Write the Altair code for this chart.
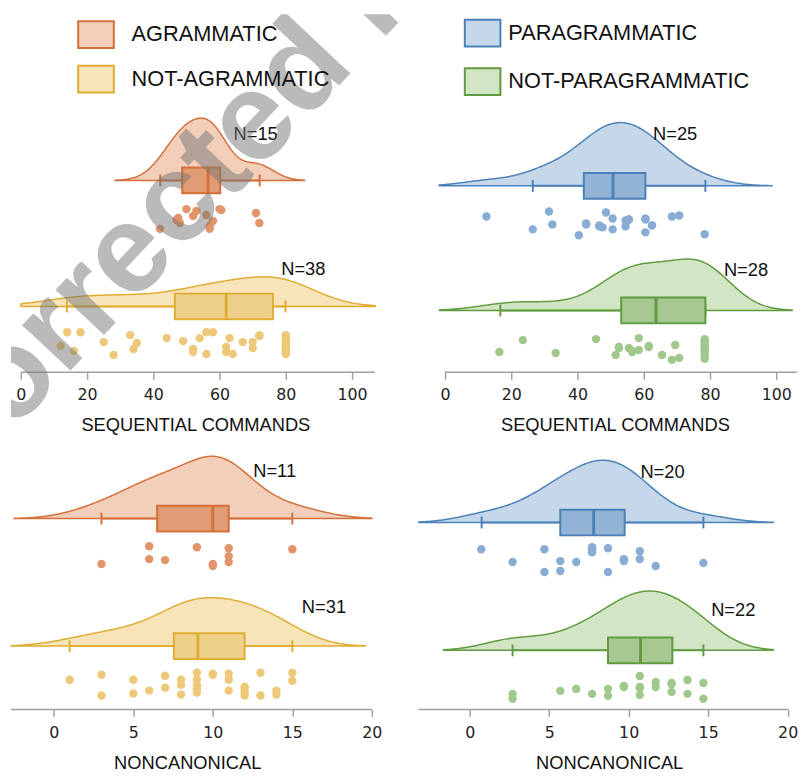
import altair as alt
import numpy as np
import pandas as pd

# ---------------- values ----------------
GROUPS_LEFT = ["AGRAMMATIC", "NOT-AGRAMMATIC"]
GROUPS_RIGHT = ["PARAGRAMMATIC", "NOT-PARAGRAMMATIC"]
X_TITLES = ["SEQUENTIAL COMMANDS", "NONCANONICAL"]
SEQ_TICKS = [0, 20, 40, 60, 80, 100]
NC_TICKS = [0, 5, 10, 15, 20]
WATERMARK = "Corrected Proof"

# SEQUENTIAL COMMANDS - scores and their vertical jitter (px below the box centre)
seq_agr = [42, 47, 47.5, 48, 50, 52, 53, 56, 57, 57, 58, 60, 60.5, 71, 72]
seq_agr_jit = [49, 40, 38, 43, 29, 36, 31, 35, 46, 49, 41, 29, 30, 33, 43]

seq_notagr = [12, 14, 16, 18, 25, 28, 33, 34, 35, 44, 49, 52, 52, 54, 56, 56, 58,
              62, 62, 63, 64, 67, 70, 70, 72, 72,
              80, 80, 80, 80, 80, 80, 80, 80, 80, 80, 80, 80]
seq_notagr_jit = [40, 26, 45, 26, 36, 49, 29, 43, 37, 32, 35, 43, 46, 32, 26, 48, 26,
                  41, 46, 32, 48, 36, 36, 42, 29, 30,
                  29, 31, 33, 35, 37, 39, 41, 43, 44, 46, 47, 48]

seq_para = [12.5, 26.5, 31.4, 32.4, 40.4, 42.6, 42.6, 46.6, 46.6, 47.6, 48.6, 50.6, 50.6,
            54.5, 54.5, 55.5, 55.5, 60.5, 60.5, 60.5, 62.5, 62.5, 68.5, 70.7, 78.4]
seq_para_jit = [31, 44, 26, 39, 50, 39, 38, 40, 41, 42, 27, 33, 44,
                35, 41, 34, 34, 33, 47, 34, 40, 40, 31, 30, 49]

seq_notpara = [16.4, 23.5, 33.4, 45.6, 51.5, 52.5, 52.5, 55.5, 56.5, 56.5, 58.5, 58.5,
               61.5, 61.5, 65.5, 68.5, 69.5, 70.7,
               78.4, 78.4, 78.4, 78.4, 78.4, 78.4, 78.4, 78.4, 78.4, 78.4]
seq_notpara_jit = [42, 30, 43, 29, 45, 37, 38, 38, 42, 41, 28, 40,
                   36, 37, 45, 50, 35, 48,
                   29, 31, 33, 35, 37, 39, 41, 43, 46, 49]

# NONCANONICAL
nc_agr = [3, 6, 6, 7, 9, 10, 10, 11, 11, 11, 15]
nc_agr_jit = [46, 28, 41, 42, 29, 46, 48, 30, 38, 44, 31]

nc_notagr = [1, 3, 3, 5, 5, 6, 7, 7, 8, 8, 8, 9, 9, 9, 9, 9, 10, 10, 11, 11, 11,
             12, 12, 12, 12, 13, 13, 14, 14, 15, 15]
nc_notagr_jit = [34, 29, 50, 34, 48, 45, 30, 42, 34, 39, 49, 27, 34, 40, 47, 43, 28, 29,
                 28, 34, 45, 41, 50, 43, 48, 27, 50, 45, 49, 27, 35]

nc_para = [0.73, 2.7, 4.7, 4.7, 5.7, 5.7, 6.7, 7.7, 7.7, 7.7, 7.7, 8.7, 8.7,
           9.7, 9.7, 9.7, 10.7, 10.7, 11.7, 14.7]
nc_para_jit = [27, 40, 27, 50, 39, 49, 40, 25, 30, 27, 28, 26, 50,
               38, 39, 37, 29, 37, 44, 41]

nc_notpara = [2.7, 2.7, 5.7, 6.7, 7.7, 8.7, 8.7, 9.7, 9.7, 10.7, 10.7, 10.7, 10.7,
              11.7, 11.7, 12.7, 12.7, 12.7, 13.7, 13.7, 14.7, 14.7]
nc_notpara_jit = [44, 49, 41, 39, 44, 39, 46, 36, 37, 26, 37, 45, 38,
                  32, 37, 33, 42, 34, 30, 44, 33, 49]

# box plots: [lower whisker, Q1, median, Q3, upper whisker]
seq_agr_box = [42.1, 48.7, 56.5, 60.2, 72.1]
seq_notagr_box = [13.9, 46.5, 62.0, 76.1, 79.9]
seq_para_box = [26.5, 41.9, 50.7, 60.5, 78.6]
seq_notpara_box = [16.7, 53.2, 63.7, 78.6, 78.6]
nc_agr_box = [3.0, 6.5, 10.0, 11.0, 15.0]
nc_notagr_box = [1.0, 7.55, 9.06, 12.0, 15.0]
nc_para_box = [0.75, 5.7, 7.8, 9.75, 14.7]
nc_notpara_box = [2.7, 8.7, 10.75, 12.75, 14.7]

# range covered by each density cloud
seq_agr_ext = [28.4, 85.7]
seq_notagr_ext = [0.0, 107.0]
seq_para_ext = [-1.8, 98.8]
seq_notpara_ext = [-1.7, 104.8]
nc_agr_ext = [-2.49, 20.0]
nc_notagr_ext = [-2.69, 19.6]
nc_para_ext = [-3.2, 19.1]
nc_notpara_ext = [-1.64, 19.1]

# ---------------- styling ----------------
COL = {
    "AGRAMMATIC": dict(pale="#f3cfba", box="#e09c74", line="#d4703a", dot="#e3946a"),
    "NOT-AGRAMMATIC": dict(pale="#f7e5b9", box="#eed08a", line="#dfad33", dot="#ecc878"),
    "PARAGRAMMATIC": dict(pale="#c6d7ea", box="#93b3d5", line="#4b81b9", dot="#88acd3"),
    "NOT-PARAGRAMMATIC": dict(pale="#d2e5c5", box="#a6c991", line="#609b40", dot="#a0c78c"),
}
GREY = "#a0a0a0"
TXT = "#111111"
SANS = "Liberation Sans"


def group(name, vals, jit, box, ext, base, peak, label_at):
    return dict(name=name, vals=vals, jit=jit, box=box, ext=ext, base=base,
                peak=peak, label_at=label_at)


PANELS = [
    dict(W=412, H=430, axis_y=362, lo=-2.985, hi=120.0, axis_start=0, axis_end=106.87,
         ticks=SEQ_TICKS, title=X_TITLES[0], title_x=186.5, title_y=53,
         legend=dict(x=67, y=1.5, offset=17, rowpad=8), names=GROUPS_LEFT, watermark=True,
         groups=[group(GROUPS_LEFT[0], seq_agr, seq_agr_jit, seq_agr_box, seq_agr_ext, 168, 63, (64.2, 121)),
                 group(GROUPS_LEFT[1], seq_notagr, seq_notagr_jit, seq_notagr_box, seq_notagr_ext, 295.5, 30, (78.6, 258))]),
    dict(W=383, H=362, axis_y=362, lo=-8.06, hi=106.27, axis_start=0, axis_end=106.27,
         ticks=SEQ_TICKS, title=X_TITLES[0], title_x=198.8, title_y=53,
         legend=dict(x=46, y=0, offset=7, rowpad=12), names=GROUPS_RIGHT, watermark=False,
         groups=[group(GROUPS_RIGHT[0], seq_para, seq_para_jit, seq_para_box, seq_para_ext, 173.5, 64, (62.8, 121)),
                 group(GROUPS_RIGHT[1], seq_notpara, seq_notpara_jit, seq_notpara_box, seq_notpara_ext, 299.5, 52, (84.2, 259))]),
    dict(W=365, H=273, axis_y=273, lo=-2.69, hi=20.0, axis_start=-2.69, axis_end=20.0,
         ticks=NC_TICKS, title=X_TITLES[1], title_x=178.3, title_y=54, legend=None,
         names=GROUPS_LEFT, watermark=False,
         groups=[group(GROUPS_LEFT[0], nc_agr, nc_agr_jit, nc_agr_box, nc_agr_ext, 80, 63, (12.54, 32)),
                 group(GROUPS_LEFT[1], nc_notagr, nc_notagr_jit, nc_notagr_box, nc_notagr_ext, 209, 49, (15.6, 170))]),
    dict(W=374, H=273, axis_y=273, lo=-3.23, hi=20.03, axis_start=-3.23, axis_end=20.03,
         ticks=NC_TICKS, title=X_TITLES[1], title_x=193, title_y=54, legend=None,
         names=GROUPS_RIGHT, watermark=False,
         groups=[group(GROUPS_RIGHT[0], nc_para, nc_para_jit, nc_para_box, nc_para_ext, 84, 63, (10.74, 33)),
                 group(GROUPS_RIGHT[1], nc_notpara, nc_notpara_jit, nc_notpara_box, nc_notpara_ext, 213.3, 60, (15.19, 172.5))]),
]


def make_panel(pp):
    W, H = pp["W"], pp["H"]
    xs = alt.Scale(domain=[pp["lo"], pp["hi"]], nice=False, zero=False)
    ys = alt.Scale(domain=[0, H], reverse=True, nice=False, zero=False)
    ax = alt.Axis(values=pp["ticks"], title=pp["title"], domain=False, grid=False,
                  offset=pp["axis_y"] - H,
                  tickColor=GREY, tickWidth=1.5, tickSize=7,
                  labelFont="DejaVu Sans", labelFontSize=16, labelColor="#222222",
                  labelPadding=8, labelFlush=False, labelOverlap=False,
                  titleFont=SANS, titleFontSize=18.5, titleFontWeight="normal",
                  titleColor=TXT, titleX=pp["title_x"], titleY=pp["title_y"],
                  titleBaseline="middle", titleAlign="center")
    names = pp["names"]
    fill_scale = alt.Scale(domain=names, range=[COL[n]["pale"] for n in names])
    stroke_scale = alt.Scale(domain=names, range=[COL[n]["line"] for n in names])
    if pp["legend"] is not None:
        lg = pp["legend"]
        leg = alt.Legend(orient="none", legendX=lg["x"], legendY=lg["y"], title=None,
                         direction="vertical", symbolType="M-1,-0.75H1V0.75H-1Z",
                         symbolSize=1296, symbolStrokeWidth=2, symbolOpacity=1,
                         labelFont=SANS, labelFontSize=22, labelColor=TXT,
                         labelOffset=lg["offset"], rowPadding=lg["rowpad"], padding=0,
                         labelLimit=0)
    else:
        leg = None

    axis_df = pd.DataFrame({"x0": [pp["axis_start"]], "x1": [pp["axis_end"]], "yb": [pp["axis_y"]]})
    layers = [alt.Chart(axis_df).mark_rule(color=GREY, strokeWidth=1.5).encode(
        x=alt.X("x0:Q", scale=xs, axis=ax), x2="x1:Q",
        y=alt.Y("yb:Q", scale=ys, axis=None))]

    for g in pp["groups"]:
        c = COL[g["name"]]
        vals = np.array(g["vals"], dtype=float)
        bw = float(np.std(vals, ddof=1) * len(vals) ** -0.2)
        base, peak = g["base"], g["peak"]
        dens = (alt.Chart(pd.DataFrame({"v": g["vals"]}))
                .transform_density("v", as_=["v", "density"], bandwidth=bw,
                                   extent=[float(g["ext"][0]), float(g["ext"][1])], steps=240)
                .transform_joinaggregate(maxd="max(density)")
                .transform_calculate(yt=f"{base} - datum.density / datum.maxd * {peak}",
                                     yb=f"{base}", grp=f"'{g['name']}'"))
        layers.append(dens.mark_area(strokeWidth=1.5, strokeJoin="round").encode(
            x=alt.X("v:Q", scale=xs, axis=ax),
            y=alt.Y("yt:Q", scale=ys, axis=None), y2="yb:Q",
            fill=alt.Fill("grp:N", scale=fill_scale, legend=leg),
            stroke=alt.Stroke("grp:N", scale=stroke_scale, legend=leg)))

        b = g["box"]
        box_df = pd.DataFrame({"lo": [b[0]], "q1": [b[1]], "med": [b[2]], "q3": [b[3]],
                               "hi": [b[4]], "yc": [base], "yt": [base - 13], "yb": [base + 13],
                               "tt": [base - 6], "tb": [base + 6]})
        bc = alt.Chart(box_df)
        layers.append(bc.mark_rule(color=c["line"], strokeWidth=2).encode(
            x=alt.X("lo:Q", scale=xs, axis=ax), x2="hi:Q", y=alt.Y("yc:Q", scale=ys, axis=None)))
        layers.append(bc.mark_rule(color=c["line"], strokeWidth=2).encode(
            x=alt.X("lo:Q", scale=xs, axis=ax), y=alt.Y("tt:Q", scale=ys, axis=None), y2="tb:Q"))
        layers.append(bc.mark_rule(color=c["line"], strokeWidth=2).encode(
            x=alt.X("hi:Q", scale=xs, axis=ax), y=alt.Y("tt:Q", scale=ys, axis=None), y2="tb:Q"))
        layers.append(bc.mark_rect(fill=c["box"], stroke=c["line"], strokeWidth=2).encode(
            x=alt.X("q1:Q", scale=xs, axis=ax), x2="q3:Q",
            y=alt.Y("yt:Q", scale=ys, axis=None), y2="yb:Q"))
        layers.append(bc.mark_rule(color=c["line"], strokeWidth=3).encode(
            x=alt.X("med:Q", scale=xs, axis=ax), y=alt.Y("yt:Q", scale=ys, axis=None), y2="yb:Q"))

        pts_df = pd.DataFrame({"v": g["vals"], "py": [base + j for j in g["jit"]]})
        layers.append(alt.Chart(pts_df).mark_circle(size=72, opacity=1, color=c["dot"]).encode(
            x=alt.X("v:Q", scale=xs, axis=ax), y=alt.Y("py:Q", scale=ys, axis=None)))

        lab_df = pd.DataFrame({"lx": [g["label_at"][0]], "ly": [g["label_at"][1]],
                               "t": [f"N={len(g['vals'])}"]})
        layers.append(alt.Chart(lab_df).mark_text(align="left", baseline="middle", font=SANS,
                                                  fontSize=18.5, color=TXT).encode(
            x=alt.X("lx:Q", scale=xs, axis=ax), y=alt.Y("ly:Q", scale=ys, axis=None), text="t:N"))

    if pp["watermark"]:
        wm_df = pd.DataFrame({"t": [WATERMARK]})
        layers.append(alt.Chart(wm_df).mark_text(
            align="left", baseline="alphabetic", angle=313.3, font=SANS, fontSize=127,
            fontWeight="bold", color="#777777", opacity=0.5, clip=True).encode(
            x=alt.value(-62), y=alt.value(490), text="t:N"))

    return alt.layer(*layers).properties(width=W, height=H)


panels = [make_panel(p) for p in PANELS]

chart = (alt.concat(*panels, columns=2, spacing={"row": 0, "column": 0}, bounds="flush")
         .resolve_scale(x="independent", y="independent", fill="independent", stroke="independent")
         .properties(padding={"left": 2, "top": 2, "right": 0, "bottom": 0}, background="white")
         .configure_view(stroke=None))

chart.save("out.html", embed_options={"renderer": "svg", "actions": False})
